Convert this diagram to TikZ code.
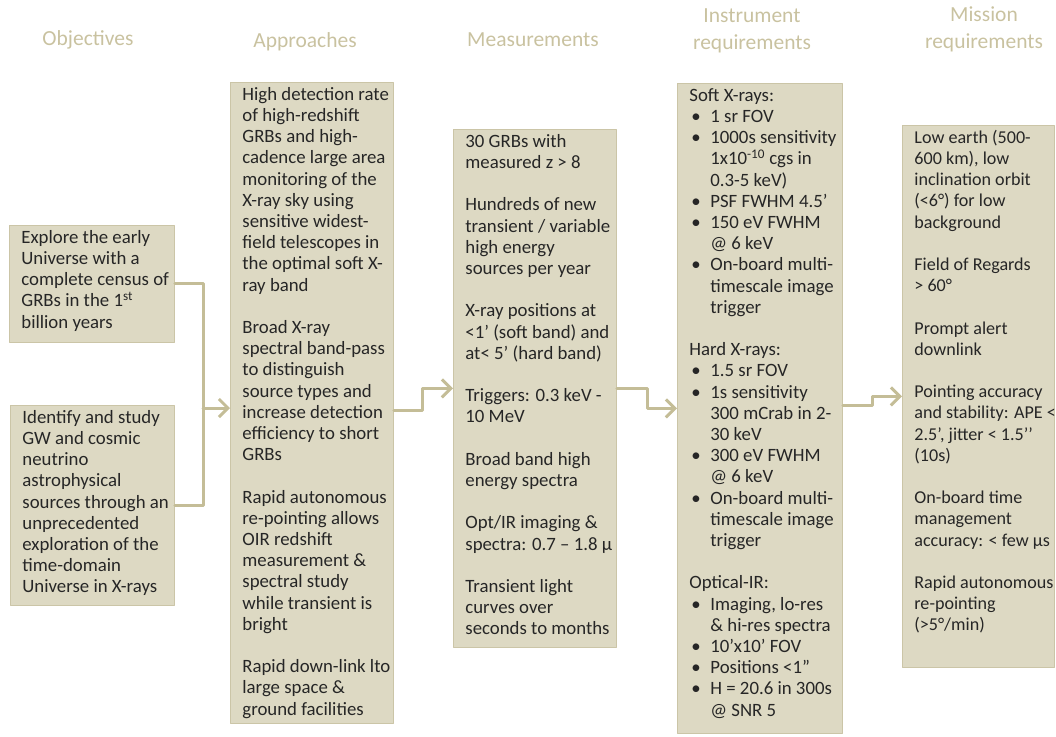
\documentclass[tikz,border=0pt]{standalone}
\usepackage{fontspec}
\setmainfont{Carlito}
\usepackage{xcolor}
\usetikzlibrary{arrows.meta}
\definecolor{tanfill}{HTML}{DDD9C3}
\definecolor{tanedge}{HTML}{CBC5A7}
\definecolor{tanline}{HTML}{C4BD97}
\definecolor{headcol}{HTML}{C9C2A0}
\definecolor{bodytxt}{HTML}{262626}
% text block of a box: fixed height, fixed width, lines set by hand
\newcommand{\boxtxt}[4][18.8]{\parbox[t][#2][t]{#3}{\fontsize{#1}{21.2}\selectfont
  \leftskip=12pt\rightskip=-14pt\strut #4}}
\newcommand{\gap}{\par\vspace{\baselineskip}}
\newcommand{\bul}{\par\hangindent=21pt\hangafter=1\noindent\hbox to 21pt{\hspace{2pt}\textbullet\hfil}}

\begin{document}
\begin{tikzpicture}[line cap=round,line join=round,>={Straight Barb[length=9pt,width=18pt]},x=1pt,y=-1pt,
  head/.style={text=headcol,font=\fontsize{21.5}{27}\selectfont,align=center},
  box/.style={draw=tanedge,fill=tanfill,line width=0.8pt,anchor=north west,inner xsep=0pt,inner ysep=3pt,text=bodytxt},
  conn/.style={draw=tanline,line width=3pt}]
\useasboundingbox (0,0) rectangle (1056,736);
% column titles
\node[head] (hobj) at (88,40) {Objectives};
\node[head] (happr) at (305,42) {Approaches};
\node[head] (hmeas) at (533,40) {Measurements};
\node[head] (hinst) at (752,31) {Instrument\\requirements};
\node[head] (hmiss) at (984,29) {Mission\\requirements};
% objectives
\node[box] (obj1) at (9,225) {\boxtxt{111pt}{165pt}{Explore the early\\Universe with a\\complete census of\\GRBs in the 1\textsuperscript{st}\\billion years}};
\node[box] (obj2) at (10,405) {\boxtxt{194pt}{164pt}{Identify and study\\GW and cosmic\\neutrino\\astrophysical\\sources through an\\unprecedented\\exploration of the\\time-domain\\Universe in X-rays}};
% approaches
\node[box] (appr) at (230,82) {\boxtxt{635pt}{163pt}{High detection rate\\of high-redshift\\GRBs  and high-\\cadence large area\\monitoring of the\\X-ray sky using\\sensitive widest-\\field telescopes in\\the optimal soft X-\\ray band\gap
Broad X-ray\\spectral band-pass\\to distinguish\\source types and\\increase detection\\efficiency to short\\GRBs\gap
Rapid autonomous\\re-pointing allows\\OIR redshift\\measurement \&\\spectral study\\while transient is\\bright\gap
Rapid down-link lto\\large space \&\\ground facilities}};
% measurements
\node[box] (meas) at (453,129) {\boxtxt{512pt}{163pt}{30 GRBs with\\measured z > 8\gap
Hundreds of new\\transient / variable\\high energy\\sources per year\gap
X-ray positions at\\<1’ (soft band) and\\at< 5’ (hard band)\gap
Triggers: 0.3 keV -\\10 MeV\gap
Broad band high\\energy spectra\gap
Opt/IR imaging \&\\spectra: 0.7 – 1.8 µ\gap
Transient light\\curves over\\seconds to months}};
% instrument requirements
\node[box] (inst) at (677,83) {\boxtxt{644pt}{165pt}{Soft X-rays:
\bul 1 sr FOV
\bul 1000s sensitivity\\1x10\textsuperscript{-10} cgs  in\\0.3-5 keV)
\bul PSF FWHM 4.5’
\bul 150 eV FWHM\\@ 6 keV
\bul On-board multi-\\timescale image\\trigger
\gap Hard X-rays:
\bul 1.5 sr FOV
\bul 1s sensitivity\\300 mCrab in 2-\\30 keV
\bul 300 eV FWHM\\@ 6 keV
\bul On-board multi-\\timescale image\\trigger
\gap Optical-IR:
\bul Imaging, lo-res\\\& hi-res spectra
\bul 10’x10’ FOV
\bul Positions <1”
\bul H = 20.6 in 300s\\@ SNR 5}};
% mission requirements
\node[box] (miss) at (902,125) {\boxtxt[18.1]{536pt}{152pt}{Low earth (500-\\600 km), low\\inclination orbit\\(<6°)  for low\\background\gap
Field  of Regards\\> 60°\gap
Prompt alert\\downlink\gap
Pointing accuracy\\and stability: APE <\\2.5’,  jitter < 1.5’’\\(10s)\gap
On-board time\\management\\accuracy: < few µs\gap
Rapid autonomous\\re-pointing\\(>5°/min)}};
% connectors
\coordinate (join) at (203,408);
\draw[conn] (obj1.east) -| (join) |- (obj2.east);
\draw[conn,->] (join) -- (join -| appr.west);
\draw[conn,->] ([yshift=-7.5pt]appr.east) -- ++(29,0) |- (meas.west);
\draw[conn,->] (meas.east) -- ++(31,0) |- (inst.west);
\draw[conn,->] ([yshift=3pt]inst.east) -- ++(30,0) |- (miss.west);
\end{tikzpicture}
\end{document}
